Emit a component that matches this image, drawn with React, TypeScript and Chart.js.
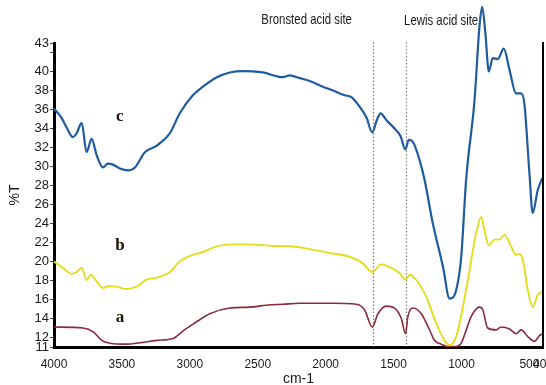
import React, { useEffect, useRef } from 'react';
import { Chart, registerables } from 'chart.js';

Chart.register(...registerables);

// ---- data (wavenumber in cm-1, transmittance in %T) ----
const cWave = [4000, 3943, 3907, 3862, 3833, 3796, 3760, 3723, 3686, 3640, 3603, 3566, 3515, 3456, 3404, 3331, 3243, 3147, 3074, 2978, 2904, 2801, 2706, 2610, 2463, 2316, 2265, 2191, 2118, 2020, 1946, 1860, 1811, 1750, 1701, 1657, 1623, 1596, 1554, 1480, 1449, 1414, 1388, 1358, 1309, 1272, 1211, 1137, 1088, 1039, 1002, 966, 904, 868, 848, 824, 799, 770, 733, 689, 647, 598, 561, 537, 500, 476, 439, 404];
const cT = [36.1, 35.1, 34.1, 33.1, 33.5, 34.6, 31.5, 32.9, 31.2, 29.9, 30.3, 30.2, 29.8, 29.6, 29.9, 31.5, 32.2, 33.5, 35.6, 37.5, 38.4, 39.4, 39.9, 40.05, 39.9, 39.4, 39.6, 39.3, 39.0, 38.4, 38.0, 37.5, 37.3, 36.3, 35.2, 33.6, 34.9, 35.6, 34.9, 33.8, 33.2, 31.8, 32.8, 32.6, 30.7, 28.6, 24.0, 19.5, 16.1, 17.0, 20.5, 28.6, 37.0, 44.7, 46.8, 44.0, 40.0, 41.4, 41.3, 42.4, 40.2, 37.7, 37.7, 36.6, 29.3, 25.1, 27.5, 28.8];

const bWave = [4000, 3932, 3870, 3833, 3796, 3760, 3728, 3686, 3637, 3601, 3539, 3465, 3392, 3318, 3245, 3147, 3074, 2976, 2902, 2804, 2682, 2559, 2436, 2314, 2265, 2118, 1971, 1824, 1726, 1657, 1590, 1529, 1456, 1412, 1382, 1333, 1260, 1186, 1125, 1088, 1039, 966, 892, 855, 831, 799, 757, 721, 684, 635, 598, 574, 549, 512, 476, 439, 404];
const bT = [20.0, 19.3, 18.7, 18.9, 19.35, 18.05, 18.6, 17.9, 17.2, 17.4, 17.35, 17.1, 17.35, 18.1, 18.3, 18.9, 20.0, 20.7, 21.0, 21.6, 21.8, 21.8, 21.7, 21.6, 21.6, 21.3, 20.9, 20.5, 19.8, 18.9, 19.7, 19.4, 18.8, 18.1, 18.6, 18.05, 16.3, 13.5, 11.7, 11.2, 12.1, 17.0, 23.0, 24.7, 23.3, 21.7, 22.3, 22.3, 22.8, 21.6, 20.7, 20.8, 20.2, 17.0, 15.2, 16.5, 16.8];

const aWave = [4000, 3785, 3711, 3649, 3588, 3465, 3368, 3245, 3123, 3049, 2976, 2853, 2706, 2559, 2436, 2314, 2191, 1946, 1774, 1713, 1657, 1615, 1554, 1493, 1443, 1412, 1395, 1358, 1296, 1235, 1199, 1150, 1100, 1050, 1002, 965, 929, 868, 843, 807, 745, 708, 647, 598, 561, 512, 463, 426, 404];
const aT = [13.1, 13.0, 12.6, 11.7, 11.4, 11.3, 11.45, 11.7, 11.9, 12.7, 13.4, 14.5, 15.1, 15.2, 15.4, 15.5, 15.6, 15.6, 15.5, 14.9, 13.1, 14.5, 15.3, 15.1, 14.0, 12.4, 14.2, 15.1, 14.5, 12.8, 11.7, 11.3, 11.05, 11.05, 11.4, 12.8, 14.2, 15.2, 14.9, 13.0, 12.8, 13.1, 12.9, 12.4, 12.8, 12.1, 11.6, 12.2, 12.4];

const xTickValues = [4000, 3500, 3000, 2500, 2000, 1500, 1000, 500, 400];
const yTickValues = [11, 12, 14, 16, 18, 20, 22, 24, 26, 28, 30, 32, 34, 36, 38, 40, 42, 43];
const yUnlabelled = [42];

const seriesLabels = ['c', 'b', 'a'];
const seriesLabelWave = [3515, 3515, 3515];
const seriesLabelT = [35.2, 21.7, 14.05];

const siteNames = ['Bronsted acid site', 'Lewis acid site'];
const siteWave = [1655, 1410];
const siteTextWave = [2140, 1150];
const siteTextT = [45.4, 45.3];

const SANS = "'Liberation Sans', Arial, sans-serif";

const overlayPlugin = {
  id: 'ftirOverlay',
  beforeDatasetsDraw(chart: any) {
    const { ctx, chartArea, scales } = chart;
    ctx.save();
    ctx.strokeStyle = '#7a7a7a';
    ctx.lineWidth = 1.2;
    ctx.setLineDash([1.5, 2]);
    siteWave.forEach((w) => {
      const x = Math.round(scales.x.getPixelForValue(w)) + 0.5;
      ctx.beginPath();
      ctx.moveTo(x, chartArea.top - 1);
      ctx.lineTo(x, chartArea.bottom);
      ctx.stroke();
    });
    ctx.restore();
  },
  afterDraw(chart: any) {
    const { ctx, chartArea, scales } = chart;
    ctx.save();
    // right frame line
    ctx.strokeStyle = '#000';
    ctx.lineWidth = 2;
    ctx.beginPath();
    ctx.moveTo(chartArea.right, chartArea.top - 1);
    ctx.lineTo(chartArea.right, chartArea.bottom + 1);
    ctx.stroke();
    // site labels (condensed)
    ctx.fillStyle = '#1a1a1a';
    ctx.font = `15px ${SANS}`;
    ctx.textAlign = 'center';
    ctx.textBaseline = 'middle';
    siteNames.forEach((s, i) => {
      const x = scales.x.getPixelForValue(siteTextWave[i]);
      const y = scales.y.getPixelForValue(siteTextT[i]);
      ctx.save();
      ctx.translate(x, y);
      ctx.scale(0.76, 1);
      ctx.fillText(s, 0, 0);
      ctx.restore();
    });
    // series letters
    ctx.fillStyle = '#1c1205';
    ctx.font = "bold 17px 'Liberation Serif', 'Times New Roman', serif";
    seriesLabels.forEach((s, i) => {
      ctx.fillText(s, scales.x.getPixelForValue(seriesLabelWave[i]), scales.y.getPixelForValue(seriesLabelT[i]));
    });
    ctx.restore();
  },
};

export default function App() {
  const ref = useRef<HTMLCanvasElement | null>(null);

  useEffect(() => {
    document.body.style.margin = '0';
    const canvas = ref.current;
    if (!canvas) return;
    const mk = (w: number[], t: number[]) => w.map((x, i) => ({ x, y: t[i] }));
    const chart = new Chart(canvas, {
      type: 'line',
      data: {
        datasets: [
          { label: 'c', data: mk(cWave, cT), borderColor: '#1f5c9f', borderWidth: 2.2 },
          { label: 'b', data: mk(bWave, bT), borderColor: '#e6dc1e', borderWidth: 1.9 },
          { label: 'a', data: mk(aWave, aT), borderColor: '#8a2a3a', borderWidth: 1.6 },
        ].map((d) => ({
          ...d,
          pointRadius: 0,
          fill: false,
          cubicInterpolationMode: 'monotone' as const,
          clip: false as any,
        })),
      },
      options: {
        animation: false,
        responsive: true,
        maintainAspectRatio: false,
        layout: { padding: { top: 43, right: 3, left: 0, bottom: 0 } },
        plugins: { legend: { display: false }, tooltip: { enabled: false } },
        scales: {
          x: {
            type: 'linear',
            reverse: true,
            min: 400,
            max: 4000,
            afterBuildTicks: (s: any) => {
              s.ticks = xTickValues.map((v) => ({ value: v }));
            },
            ticks: {
              autoSkip: false,
              maxRotation: 0,
              padding: 2,
              color: '#1a1a1a',
              font: { family: SANS, size: 12 },
              callback: (v: any) => String(v),
            },
            grid: { display: false },
            border: { display: true, color: '#000', width: 3 },
            title: {
              display: true,
              text: 'cm-1',
              color: '#1a1a1a',
              font: { family: SANS, size: 14 },
              padding: { top: 0, bottom: -3 },
            },
            afterFit: (s: any) => {
              s.height = 38;
              s.paddingLeft = 0;
              s.paddingRight = 0;
            },
          },
          y: {
            type: 'linear',
            min: 11,
            max: 43,
            afterBuildTicks: (s: any) => {
              s.ticks = yTickValues.map((v) => ({ value: v }));
            },
            ticks: {
              autoSkip: false,
              padding: 1,
              color: '#1a1a1a',
              font: { family: SANS, size: 13 },
              callback: (v: any) => (yUnlabelled.includes(v) ? '' : String(v)),
            },
            grid: { display: true, drawOnChartArea: false, drawTicks: true, tickLength: 4, color: '#444', lineWidth: 1 },
            border: { display: true, color: '#000', width: 3 },
            title: {
              display: true,
              text: '%T',
              color: '#1a1a1a',
              font: { family: SANS, size: 14 },
              padding: { top: 7, bottom: 0 },
            },
            afterFit: (s: any) => {
              s.width = 54;
              s.paddingTop = 0;
              s.paddingBottom = 0;
            },
          },
        },
      },
      plugins: [overlayPlugin],
    } as any);
    return () => chart.destroy();
  }, []);

  return (
    <div style={{ width: 546, height: 385, position: 'relative', background: '#fff' }}>
      <canvas ref={ref} />
    </div>
  );
}
